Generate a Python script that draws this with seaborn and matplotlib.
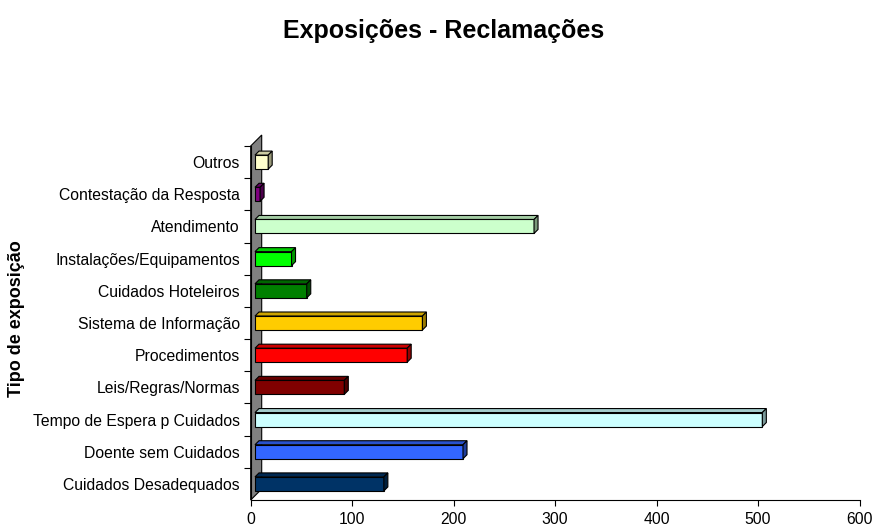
import numpy as np
import pandas as pd
import matplotlib
matplotlib.use("Agg")
import matplotlib.pyplot as plt
from matplotlib.patches import Polygon
from matplotlib.colors import to_rgb
import seaborn as sns

# data, top to bottom as in the chart
categorias = ['Outros', 'Contestação da Resposta', 'Atendimento',
              'Instalações/Equipamentos', 'Cuidados Hoteleiros',
              'Sistema de Informação', 'Procedimentos', 'Leis/Regras/Normas',
              'Tempo de Espera p Cuidados', 'Doente sem Cuidados',
              'Cuidados Desadequados']
valores = [13, 5, 275, 36, 51, 165, 150, 88, 500, 205, 127]
cores = ['#FFFFCC', '#800080', '#CCFFCC', '#00FF00', '#008000', '#FFCC00',
         '#FF0000', '#800000', '#CCFFFF', '#3366FF', '#003366']
xticks = [0, 100, 200, 300, 400, 500, 600]

df = pd.DataFrame({'tipo': categorias, 'n': valores})

sns.set_style('white')
plt.rcParams['font.family'] = ['Liberation Sans', 'DejaVu Sans']
plt.rcParams['text.color'] = 'black'
plt.rcParams['axes.labelcolor'] = 'black'
plt.rcParams['xtick.color'] = 'black'
plt.rcParams['ytick.color'] = 'black'

fig = plt.figure(figsize=(8.73, 5.26), dpi=100, facecolor='white')
ax = fig.add_axes([250.7/873, 26/526, 608.8/873, 354/526])

sns.barplot(data=df, x='n', y='tipo', hue='tipo', palette=cores, orient='h',
            width=0.435, saturation=1, edgecolor='black', linewidth=0.8,
            legend=False, ax=ax, zorder=3)

ax.set_xlim(0, 600)
ax.set_ylim(len(categorias) - 0.5, -0.5)

# 3D look: pixels -> data units
ux = 600 / 608.8
uy = len(categorias) / 354
off = 4.3 * ux               # bars sit a bit inside the wall
bdx, bdy = 4 * ux, 4 * uy    # bar depth
wdx, wdy = 11 * ux, 11 * uy  # wall depth

def shade(c, f):
    return tuple(v * f for v in to_rgb(c))

bars = list(ax.patches)
for p, c in zip(bars, cores):
    p.set_x(p.get_x() + off)
    x0, y0 = p.get_x(), p.get_y()
    w, h = p.get_width(), p.get_height()
    top = [(x0, y0), (x0 + w, y0), (x0 + w + bdx, y0 - bdy), (x0 + bdx, y0 - bdy)]
    side = [(x0 + w, y0), (x0 + w, y0 + h), (x0 + w + bdx, y0 + h - bdy),
            (x0 + w + bdx, y0 - bdy)]
    ax.add_patch(Polygon(top, closed=True, facecolor=shade(c, 0.8),
                         edgecolor='black', linewidth=0.8, zorder=3))
    ax.add_patch(Polygon(side, closed=True, facecolor=shade(c, 0.6),
                         edgecolor='black', linewidth=0.8, zorder=3))

y_lo, y_hi = len(categorias) - 0.5, -0.5
wall = [(0, y_lo), (0, y_hi), (wdx, y_hi - wdy), (wdx, y_lo - wdy)]
ax.add_patch(Polygon(wall, closed=True, facecolor='#808080', edgecolor='black',
                     linewidth=0.8, zorder=1, clip_on=False))

# axes styling
for s in ['top', 'right']:
    ax.spines[s].set_visible(False)
for s in ['left', 'bottom']:
    ax.spines[s].set_color('black')
    ax.spines[s].set_linewidth(0.8)

ax.set_xticks(xticks)
ax.set_xticklabels([str(t) for t in xticks], fontsize=11.3)
ax.tick_params(axis='x', direction='out', length=4.5, width=0.8, pad=4.5,
               bottom=True)
ax.set_yticks(np.arange(len(categorias)) - 0.5, minor=True)
ax.set_yticks(np.arange(len(categorias)))
ax.set_yticklabels(categorias, fontsize=11.3)
ax.tick_params(axis='y', which='major', length=0, pad=7.7)
ax.tick_params(axis='y', which='minor', direction='out', length=5, width=0.8,
               left=True)

ax.set_xlabel('')
ax.set_ylabel('')
fig.text(17 / 873, 1 - 319 / 526, 'Tipo de exposição', fontsize=13,
         fontweight='bold', rotation=90, ha='center', va='center')

fig.text(443.5 / 873, 1 - 31 / 526, 'Exposições - Reclamações', fontsize=18,
         fontweight='bold', ha='center', va='center')

fig.savefig('out.png', dpi=100, facecolor='white')
